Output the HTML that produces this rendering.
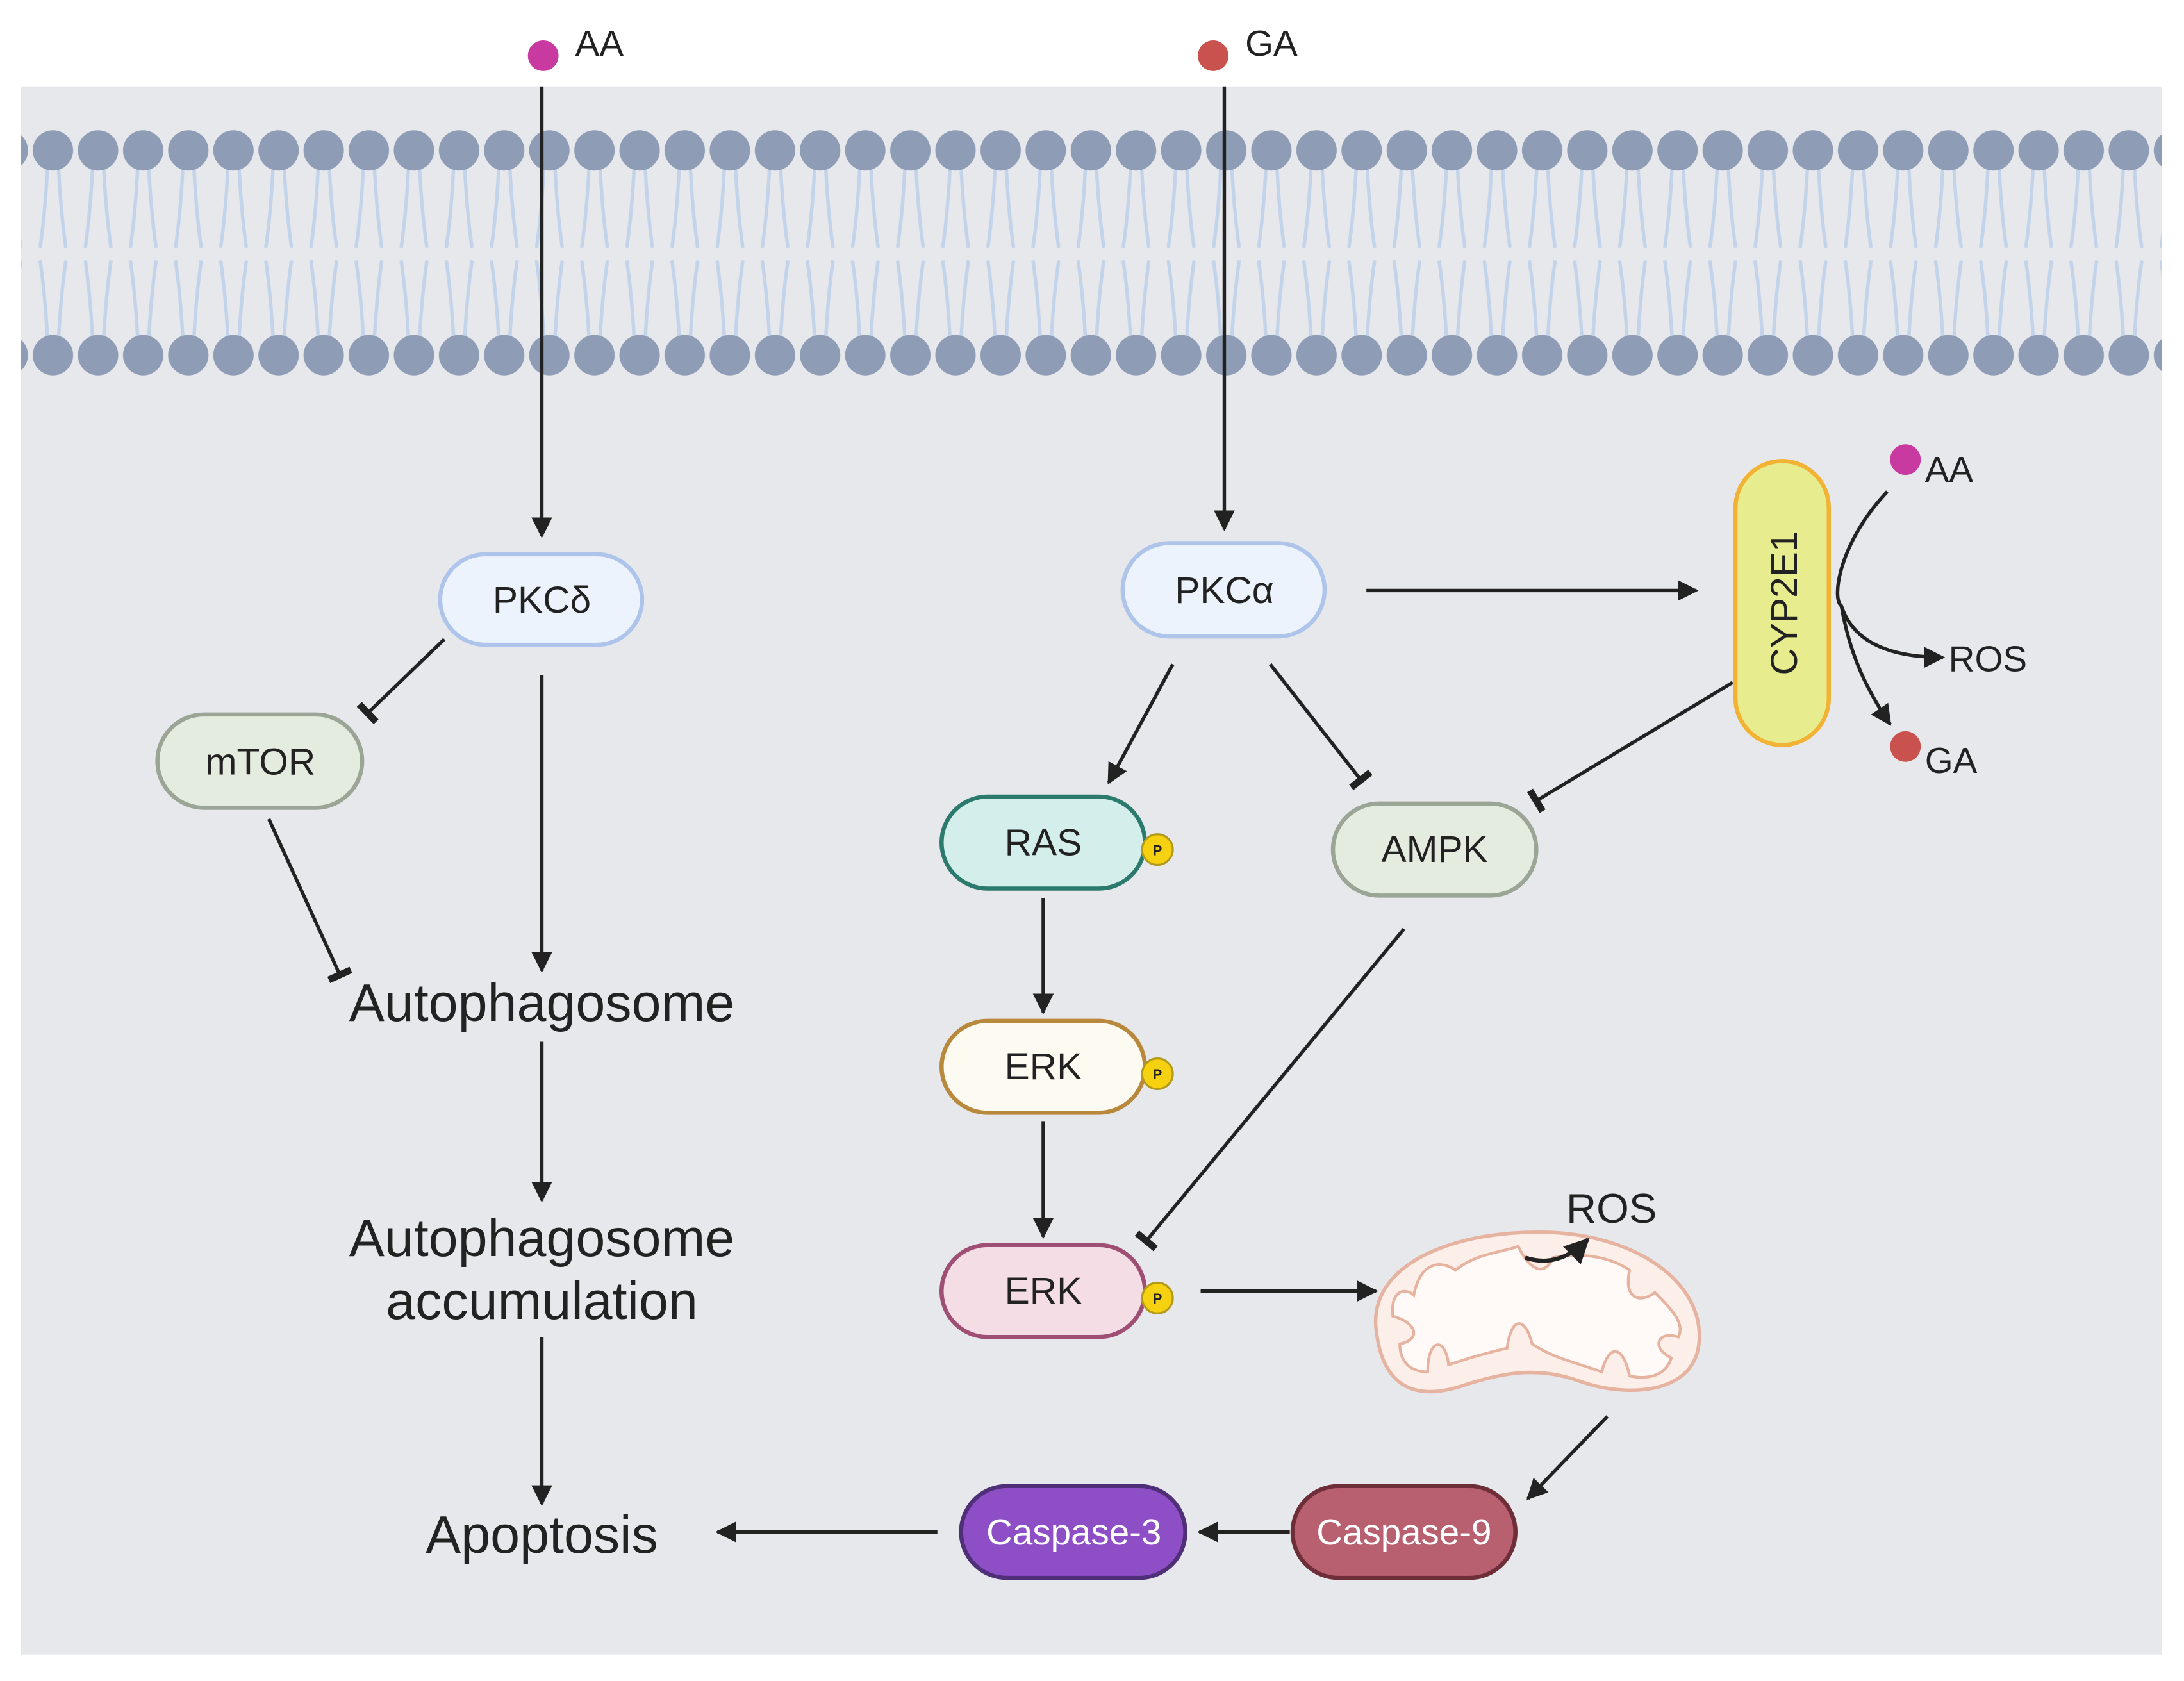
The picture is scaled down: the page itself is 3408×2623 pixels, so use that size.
<!DOCTYPE html>
<html><head><meta charset="utf-8"><style>
html,body{margin:0;padding:0;background:#fff;}
svg{display:block;}
text{font-family:"Liberation Sans",sans-serif;fill:#222;}
</style></head><body>
<svg width="3408" height="2623" viewBox="0 0 1568 1207" preserveAspectRatio="none" xmlns="http://www.w3.org/2000/svg">
<defs>
<marker id="ar" viewBox="0 0 10 10" refX="9" refY="5" markerWidth="6" markerHeight="6" orient="auto" markerUnits="strokeWidth"><path d="M0,0 L10,5 L0,10 Z" fill="#222"/></marker>
<marker id="ib" viewBox="0 0 4 14" refX="2" refY="7" markerWidth="2" markerHeight="7" orient="auto" markerUnits="strokeWidth"><rect x="0" y="0" width="4" height="14" fill="#222"/></marker>
<pattern id="mem" x="21.8" y="0" width="32.4" height="300" patternUnits="userSpaceOnUse">
<path d="M12.5,115 Q11,150 7,178 M20,115 Q21.5,150 25.5,178 M7,187 Q11,215 12.5,248 M25.5,187 Q21.5,215 20,248" stroke="#c3d3ea" stroke-width="2.5" fill="none"/>
<circle cx="16.2" cy="108" r="14.5" fill="#8e9db5"/>
<circle cx="16.2" cy="255" r="14.5" fill="#8e9db5"/>
</pattern>
</defs>
<rect x="0" y="0" width="1568" height="1207" fill="#fff"/>
<rect x="15" y="62" width="1537" height="1126" fill="#e7e8ec"/>
<rect x="15" y="85" width="1537" height="190" fill="url(#mem)"/>

<circle cx="390" cy="40" r="11" fill="#c83a9f"/>
<text x="413" y="40" font-size="26">AA</text>
<circle cx="871" cy="40" r="11" fill="#c9524f"/>
<text x="894" y="40" font-size="26">GA</text>

<g stroke="#222" stroke-width="2.5" fill="none">
<line x1="389" y1="62" x2="389" y2="385" marker-end="url(#ar)"/>
<line x1="879" y1="62" x2="879" y2="380" marker-end="url(#ar)"/>
<line x1="319" y1="459" x2="264" y2="512" marker-end="url(#ib)"/>
<line x1="389" y1="485" x2="389" y2="697" marker-end="url(#ar)"/>
<line x1="193" y1="588" x2="244" y2="700" marker-end="url(#ib)"/>
<line x1="389" y1="748" x2="389" y2="862" marker-end="url(#ar)"/>
<line x1="389" y1="960" x2="389" y2="1080" marker-end="url(#ar)"/>
<line x1="981" y1="424" x2="1218" y2="424" marker-end="url(#ar)"/>
<line x1="842" y1="477" x2="796" y2="562" marker-end="url(#ar)"/>
<line x1="912" y1="477" x2="977" y2="560" marker-end="url(#ib)"/>
<line x1="1244" y1="490" x2="1103" y2="575" marker-end="url(#ib)"/>
<line x1="749" y1="645" x2="749" y2="727" marker-end="url(#ar)"/>
<line x1="749" y1="805" x2="749" y2="888" marker-end="url(#ar)"/>
<line x1="1008" y1="667" x2="823" y2="891" marker-end="url(#ib)"/>
<line x1="862" y1="927" x2="988" y2="927" marker-end="url(#ar)"/>
<line x1="1154" y1="1017" x2="1097" y2="1076" marker-end="url(#ar)"/>
<line x1="926" y1="1100" x2="861" y2="1100" marker-end="url(#ar)"/>
<line x1="673" y1="1100" x2="515" y2="1100" marker-end="url(#ar)"/>
<path d="M1355,353 C1320,390 1315,430 1322,435 C1330,460 1355,472 1395,472" marker-end="url(#ar)"/>
<path d="M1322,435 C1328,470 1340,495 1357,520" marker-end="url(#ar)"/>
</g>

<circle cx="1368" cy="330" r="11" fill="#c83a9f"/>
<text x="1382" y="346" font-size="26">AA</text>
<text x="1399" y="482" font-size="26">ROS</text>
<circle cx="1368" cy="536" r="11" fill="#c9524f"/>
<text x="1382" y="555" font-size="26">GA</text>

<g stroke-width="3">
<rect x="316" y="398" width="145" height="65" rx="32.5" fill="#edf3fc" stroke="#aec4ea"/>
<rect x="113" y="513" width="147" height="67" rx="33.5" fill="#e4ecdf" stroke="#9aa596"/>
<rect x="806" y="390" width="145" height="67" rx="33.5" fill="#edf3fc" stroke="#aec4ea"/>
<rect x="676" y="572" width="146" height="66" rx="33" fill="#d4efeb" stroke="#2c7a6e"/>
<rect x="957" y="577" width="146" height="66" rx="33" fill="#e4ecdf" stroke="#9aa596"/>
<rect x="676" y="733" width="146" height="66" rx="33" fill="#fdfbf1" stroke="#b8893c"/>
<rect x="676" y="894" width="146" height="66" rx="33" fill="#f5dde6" stroke="#9e4f73"/>
<rect x="690" y="1067" width="161" height="66" rx="33" fill="#8e4fc6" stroke="#4f2f78"/>
<rect x="928" y="1067" width="160" height="66" rx="33" fill="#b8606f" stroke="#6d2e38"/>
<rect x="1246" y="331" width="67" height="204" rx="33.5" fill="#e7ec8e" stroke="#f2b233"/>
</g>
<g fill="#f5d10f" stroke="#b39a1c" stroke-width="1.5">
<circle cx="831" cy="610" r="11"/><circle cx="831" cy="771" r="11"/><circle cx="831" cy="932" r="11"/>
</g>
<g font-size="10" font-weight="bold" text-anchor="middle"><text x="831" y="614">P</text><text x="831" y="775">P</text><text x="831" y="936">P</text></g>

<g font-size="27" text-anchor="middle">
<text x="389" y="440">PKCδ</text>
<text x="187" y="556">mTOR</text>
<text x="879" y="433">PKCα</text>
<text x="749" y="614">RAS</text>
<text x="1030" y="619">AMPK</text>
<text x="749" y="775">ERK</text>
<text x="749" y="936">ERK</text>
<text x="771" y="1109" style="fill:#fff" font-size="26">Caspase-3</text>
<text x="1008" y="1109" style="fill:#fff" font-size="26">Caspase-9</text>
<text transform="translate(1290,433) rotate(-90)" font-size="27">CYP2E1</text>
</g>
<g font-size="38" text-anchor="middle">
<text x="389" y="733">Autophagosome</text>
<text x="389" y="902">Autophagosome</text>
<text x="389" y="947">accumulation</text>
<text x="389" y="1115">Apoptosis</text>
</g>

<path d="M988,955 C982,905 1050,882 1115,885 C1175,888 1222,920 1220,962 C1218,1003 1165,1003 1135,992 C1105,981 1080,985 1050,995 C1010,1008 992,990 988,955Z" fill="#fcefe9" stroke="#e6b3a0" stroke-width="2.5"/>
<path d="M1000,945 C998,925 1010,925 1015,930 C1020,905 1035,905 1045,912 C1060,900 1075,900 1090,895 C1100,915 1110,915 1115,903 C1140,898 1160,905 1170,912 C1165,935 1180,935 1188,928 C1200,940 1210,950 1205,960 C1190,955 1185,968 1200,975 C1195,990 1180,990 1170,988 C1165,965 1155,965 1150,985 C1130,978 1115,975 1100,965 C1095,945 1085,945 1082,968 C1065,972 1055,975 1040,980 C1038,960 1025,960 1025,985 C1010,985 1005,975 1005,965 C1020,962 1018,950 1000,945Z" fill="#fffaf8" stroke="#e6b3a0" stroke-width="2"/>
<path d="M1095,903 C1110,908 1125,905 1140,890" stroke="#222" stroke-width="3" fill="none" marker-end="url(#ar)"/>
<text x="1157" y="878" font-size="30" text-anchor="middle">ROS</text>
</svg>
</body></html>
